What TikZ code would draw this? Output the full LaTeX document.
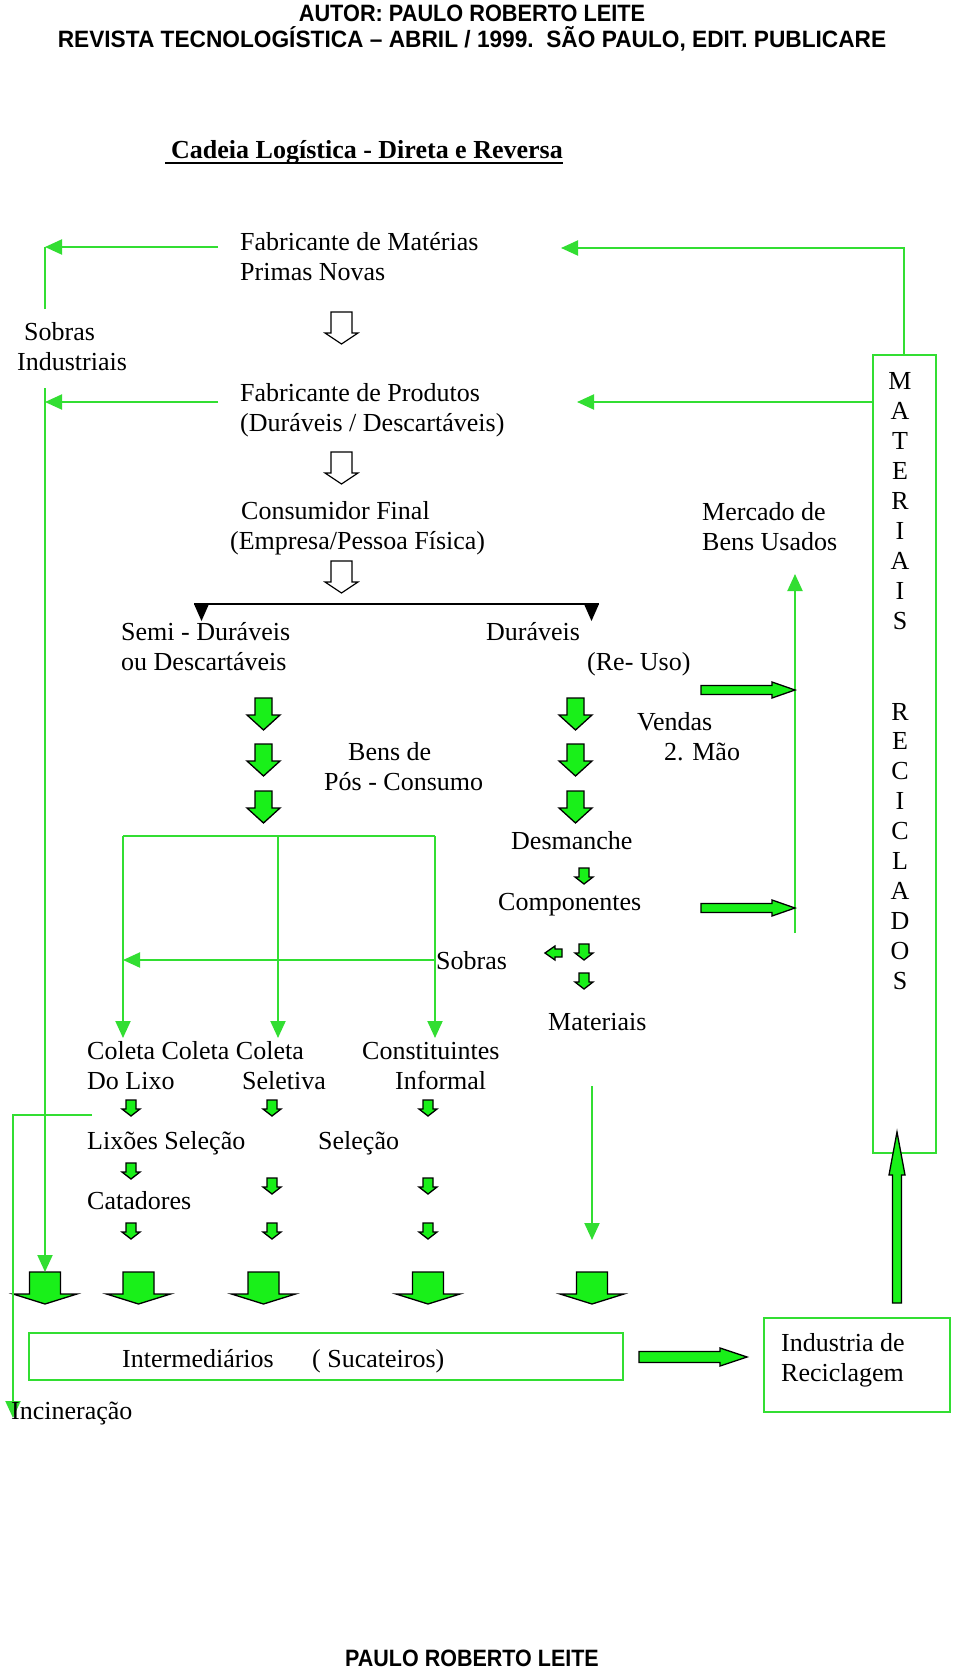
\documentclass[tikz,border=0pt]{standalone}
\usepackage{fontspec}
\usepackage{graphicx}
\setmainfont{Liberation Serif}
\newfontfamily\hdrfont{Liberation Sans}
\usetikzlibrary{arrows.meta}
\definecolor{gline}{RGB}{50,222,50}
\definecolor{gfill}{RGB}{25,240,25}
% down block arrow: cx, top, shaft half, shaft h, head half, head h, style
\newcommand{\downblk}[7]{\draw[#7] ({#1-#3},#2) -- ({#1+#3},#2) -- ({#1+#3},{#2+#4}) -- ({#1+#5},{#2+#4}) -- (#1,{#2+#4+#6}) -- ({#1-#5},{#2+#4}) -- ({#1-#3},{#2+#4}) -- cycle;}
% horizontal block arrow: x start, cy, shaft half, x head base, head half, x tip, style
\newcommand{\horblk}[7]{\draw[#7] (#1,{#2-#3}) -- (#4,{#2-#3}) -- (#4,{#2-#5}) -- (#6,#2) -- (#4,{#2+#5}) -- (#4,{#2+#3}) -- (#1,{#2+#3}) -- cycle;}
% vertical up block arrow: cx, bottom, shaft half, y head base, head half, y tip, style
\newcommand{\upblk}[7]{\draw[#7] ({#1-#3},#2) -- ({#1-#3},#4) -- ({#1-#5},#4) -- (#1,#6) -- ({#1+#5},#4) -- ({#1+#3},#4) -- ({#1+#3},#2) -- cycle;}
\begin{document}
\begin{tikzpicture}[x=1pt,y=-1pt,
  txt/.style={font=\fontsize{26}{30}\selectfont, inner sep=0pt, anchor=base west},
  letter/.style={font=\fontsize{26}{30}\selectfont, inner sep=0pt, anchor=base},
  hdr/.style={font=\hdrfont\bfseries\fontsize{21.5}{26}\selectfont, inner sep=0pt, anchor=base},
  ttl/.style={font=\bfseries\fontsize{26}{30}\selectfont, inner sep=0pt, anchor=base west},
  gl/.style={draw=gline, line width=2pt},
  gla/.style={gl, -{Triangle[length=17pt,width=15pt]}},
  gbox/.style={draw=gline, line width=2pt},
  blk/.style={fill=gfill, draw=black, line width=1.3pt, line join=miter},
  hol/.style={fill=white, draw=black, line width=1.2pt, line join=miter},
  bline/.style={draw=black, line width=1.6pt}
]
\useasboundingbox[fill=white] (0,0) rectangle (960,1668);

% ---------- header ----------
\node[hdr] (h1) at (472,21) {\scalebox{1.01}[1.1]{AUTOR: PAULO ROBERTO LEITE}};
\node[hdr] (h2) at (472,47) {\scalebox{1.055}[1.1]{REVISTA TECNOLOGÍSTICA – ABRIL / 1999.\ \ SÃO PAULO, EDIT. PUBLICARE}};
\node[hdr] (h3) at (472,1666) {\scalebox{1}[1.1]{PAULO ROBERTO LEITE}};
\node[ttl] (title) at (171,158) {Cadeia Logística - Direta e Reversa};
\draw[line width=1.8pt] ([xshift=-6pt,yshift=-5pt]title.base west) -- ([yshift=-5pt]title.base east);

% ---------- main chain ----------
\node[txt] (fab1) at (240,250) {Fabricante de Matérias};
\node[txt] (fab1b) at (240,280) {Primas Novas};
\node[txt] (sob1) at (24,340) {Sobras};
\node[txt] (sob1b) at (17,370) {Industriais};
\node[txt] (fab2) at (240,401) {Fabricante de Produtos};
\node[txt] (fab2b) at (240,431) {(Duráveis / Descartáveis)};
\node[txt] (cons) at (241,519) {Consumidor Final};
\node[txt] (consb) at (230,549) {(Empresa/Pessoa Física)};

\downblk{341.5}{312}{10.5}{21}{16.5}{11}{hol}
\downblk{341.5}{452}{10.5}{21}{16.5}{11}{hol}
\downblk{341.5}{561}{10.5}{21}{16.5}{11}{hol}

% split line
\coordinate (sl) at (194,604);
\coordinate (sr) at (599,604);
\draw[bline] (sl) -- (sr);
\fill[black] (194,604) -- (209,604) -- (201.5,621) -- cycle;
\fill[black] (584,604) -- (599,604) -- (591.5,621) -- cycle;

\node[txt] (semi) at (121,640) {Semi - Duráveis};
\node[txt] (semib) at (121,670) {ou Descartáveis};
\node[txt] (dur) at (486,640) {Duráveis};
\node[txt] (reuso) at (587,670) {(Re- Uso)};

% left column arrows
\downblk{263.5}{698}{8.5}{17}{16.5}{15}{blk}
\downblk{263.5}{744}{8.5}{17}{16.5}{15}{blk}
\downblk{263.5}{791}{8.5}{17}{16.5}{15}{blk}
% right column arrows
\downblk{575.5}{698}{8.5}{17}{16.5}{15}{blk}
\downblk{575.5}{744}{8.5}{17}{16.5}{15}{blk}
\downblk{575.5}{791}{8.5}{17}{16.5}{15}{blk}

\node[txt] (bens) at (348,760) {Bens de};
\node[txt] (bensb) at (324,790) {Pós - Consumo};
\node[txt] (desm) at (511,849) {Desmanche};
\downblk{584}{868}{5}{9}{9}{7}{blk}
\node[txt] (comp) at (498,910) {Componentes};
\horblk{562}{953}{4}{555}{7}{545}{blk}
\downblk{584}{944}{5}{9}{9}{7}{blk}
\downblk{584}{973}{5}{9}{9}{7}{blk}
\node[txt] (sob2) at (436,969) {Sobras};
\node[txt] (mat) at (548,1030) {Materiais};

\node[txt] (vend) at (637,730) {Vendas};
\node[txt] (vendb) at (664,760) {2. Mão};
\node[txt] (merc) at (702,520) {Mercado de};
\node[txt] (mercb) at (702,550) {Bens Usados};

% ---------- collection branches ----------
\coordinate (b1) at (123,836);
\coordinate (b2) at (278,836);
\coordinate (b3) at (435,836);
\coordinate (b1e) at (123,1038);
\coordinate (b2e) at (278,1038);
\coordinate (b3e) at (435,1038);
\draw[gl] (b1) -- (b3);
\draw[gla] (b1) -- (b1e);
\draw[gla] (b2) -- (b2e);
\draw[gla] (b3) -- (b3e);
\coordinate (s2a) at (435,960);
\coordinate (s2b) at (123,960);
\draw[gla] (s2a) -- (s2b);

\node[txt] (col) at (87,1059) {Coleta Coleta Coleta};
\node[txt] (const) at (362,1059) {Constituintes};
\node[txt] (dolixo) at (87,1089) {Do Lixo};
\node[txt] (selet) at (242,1089) {Seletiva};
\node[txt] (inf) at (395,1089) {Informal};
\node[txt] (lix) at (87,1149) {Lixões Seleção};
\node[txt] (sel2) at (318,1149) {Seleção};
\node[txt] (cat) at (87,1209) {Catadores};

\downblk{131}{1100}{5}{9}{9}{7}{blk}
\downblk{272}{1100}{5}{9}{9}{7}{blk}
\downblk{428}{1100}{5}{9}{9}{7}{blk}
\downblk{131}{1163}{5}{9}{9}{7}{blk}
\downblk{272}{1178}{5}{9}{9}{7}{blk}
\downblk{428}{1178}{5}{9}{9}{7}{blk}
\downblk{131}{1223}{5}{9}{9}{7}{blk}
\downblk{272}{1223}{5}{9}{9}{7}{blk}
\downblk{428}{1223}{5}{9}{9}{7}{blk}

% big arrows
\downblk{45}{1272}{15.5}{22}{32}{10}{blk}
\downblk{138.5}{1272}{15.5}{22}{32}{10}{blk}
\downblk{263.5}{1272}{15.5}{22}{32}{10}{blk}
\downblk{428}{1272}{15.5}{22}{32}{10}{blk}
\downblk{592}{1272}{15.5}{22}{32}{10}{blk}

% Materiais down line
\coordinate (m1) at (592,1086);
\coordinate (m2) at (592,1240);
\draw[gla] (m1) -- (m2);

% ---------- left return lines ----------
\coordinate (l1a) at (218,247);
\coordinate (l1b) at (45,247);
\coordinate (l1c) at (45,309);
\draw[gl] (l1c) -- (l1b);
\draw[gla] (l1a) -- (l1b);
\coordinate (l2a) at (218,402);
\coordinate (l2b) at (45,402);
\draw[gla] (l2a) -- (l2b);
\coordinate (l3a) at (45,388);
\coordinate (l3b) at (45,1272);
\draw[gla] (l3a) -- (l3b);

% incineration
\coordinate (i1) at (92,1115);
\coordinate (i2) at (13,1115);
\coordinate (i3) at (13,1418);
\draw[gla] (i1) -- (i2) -- (i3);
\node[txt] (inc) at (11,1419) {Incineração};

% ---------- bottom boxes ----------
\node[gbox, minimum width=594pt, minimum height=47pt, inner sep=0pt] (interm) at (326,1356.5) {};
\node[txt] (intt) at (122,1367) {Intermediários};
\node[txt] (suc) at (312,1367) {( Sucateiros)};
\node[gbox, minimum width=186pt, minimum height=94pt, inner sep=0pt] (ind) at (857,1365) {};
\node[txt] (indt) at (781,1351) {Industria de};
\node[txt] (indtb) at (781,1381) {Reciclagem};
\horblk{639}{1357}{5.5}{720}{9}{747}{blk}

% ---------- right side ----------
\node[gbox, minimum width=63pt, minimum height=798pt, inner sep=0pt] (matbox) at (904.5,754) {};
\foreach \L [count=\i from 0] in {M,A,T,E,R,I,A,I,S}
  \node[letter] (ma\i) at (900,{389+30*\i}) {\L};
\foreach \L [count=\i from 0] in {R,E,C,I,C,L,A,D,O,S}
  \node[letter] (re\i) at (900,{720+29.9*\i}) {\L};

\coordinate (r1a) at (904,356);
\coordinate (r1b) at (904,248);
\coordinate (r1c) at (561,248);
\draw[gla] (r1a) -- (r1b) -- (r1c);
\coordinate (r2a) at (873,402);
\coordinate (r2b) at (577,402);
\draw[gla] (r2a) -- (r2b);

\coordinate (u1) at (795,933);
\coordinate (u2) at (795,574);
\draw[gla] (u1) -- (u2);
\horblk{701}{690}{4.5}{772}{8}{795}{blk}
\horblk{701}{908}{4.5}{772}{8}{795}{blk}

\upblk{897}{1303}{4.5}{1175}{8}{1132}{blk}
\end{tikzpicture}
\end{document}
